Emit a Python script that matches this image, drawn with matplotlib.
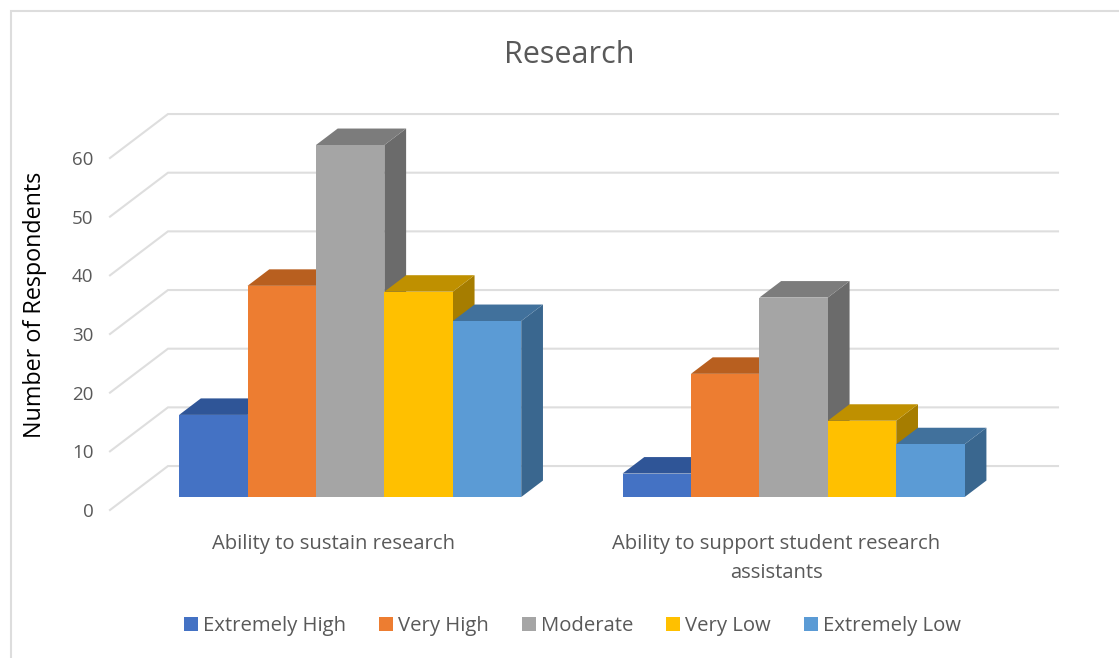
import matplotlib
matplotlib.use("Agg")
import matplotlib.pyplot as plt
from matplotlib.lines import Line2D
from matplotlib.patches import Patch, Polygon

categories = ["Ability to sustain research", "Ability to support student research\nassistants"]
series_names = ["Extremely High", "Very High", "Moderate", "Very Low", "Extremely Low"]
extremely_high = [14, 4]
very_high = [36, 21]
moderate = [60, 34]
very_low = [35, 13]
extremely_low = [30, 9]
y_ticks = [0, 10, 20, 30, 40, 50, 60]

front_colours = ["#4472C4", "#ED7D31", "#A5A5A5", "#FFC000", "#5B9BD5"]
top_colours = ["#2F5597", "#B85F1F", "#7C7C7C", "#BF9000", "#41719C"]
side_colours = ["#28497F", "#9A4F1A", "#6B6B6B", "#A67D00", "#3A678F"]

W, H = 1119, 658
plt.rcParams["font.family"] = ["Open Sans", "DejaVu Sans"]

fig = plt.figure(figsize=(W / 100, H / 100), dpi=100)
ax = fig.add_axes([110 / W, 1 - 510 / H, 890 / W, 352 / H])
ax.set_xlim(-0.503, 1.504)
ax.set_ylim(0, 60)
for spine in ax.spines.values():
    spine.set_visible(False)

# fake 3D: a point at depth d moves right and up by these amounts (data units)
wall_dx = 58 / 443.5
wall_dy = 44 / 5.87
bar_width = 0.1543
bar_d0 = 0.295
bar_d1 = 0.67


def project(x, v, d):
    return x + wall_dx * d, v + wall_dy * d


# side wall lines and back wall gridlines
x_left, x_right = ax.get_xlim()
for v in y_ticks:
    bx, by = project(x_left, v, 1)
    ex, _ = project(x_right, v, 1)
    ax.plot([x_left, bx, ex], [v, by, by], color="#DEDEDE", lw=1.5, clip_on=False,
            solid_joinstyle="miter", zorder=1)


def draw_bar(x, v, i, z):
    x2 = x + bar_width
    front = [project(x, 0, bar_d0), project(x2, 0, bar_d0),
             project(x2, v, bar_d0), project(x, v, bar_d0)]
    top = [project(x, v, bar_d0), project(x2, v, bar_d0),
           project(x2, v, bar_d1), project(x, v, bar_d1)]
    side = [project(x2, 0, bar_d0), project(x2, 0, bar_d1),
            project(x2, v, bar_d1), project(x2, v, bar_d0)]
    ax.add_patch(Polygon(side, facecolor=side_colours[i], edgecolor="none", clip_on=False, zorder=z))
    ax.add_patch(Polygon(top, facecolor=top_colours[i], edgecolor="none", clip_on=False, zorder=z))
    ax.add_patch(Polygon(front, facecolor=front_colours[i], edgecolor="none", clip_on=False, zorder=z))


all_series = [extremely_high, very_high, moderate, very_low, extremely_low]
z = 2
for c in range(len(categories)):
    for i, values in enumerate(all_series):
        draw_bar(c + (i - 2.5) * bar_width, values[c], i, z)
        z += 1

ax.set_yticks(y_ticks)
ax.set_yticklabels([str(v) for v in y_ticks], fontsize=13.5, color="#595959")
ax.set_xticks(range(len(categories)))
ax.set_xticklabels(categories, fontsize=14.6, color="#595959", linespacing=1.62)
ax.tick_params(axis="both", length=0)
ax.tick_params(axis="y", pad=12)
ax.tick_params(axis="x", pad=17)

fig.text(569 / W, 1 - 55 / H, "Research", fontsize=22, color="#595959", ha="center", va="center")
fig.text(35 / W, 1 - 305 / H, "Number of Respondents", fontsize=16.8, color="black",
         rotation=90, ha="center", va="center")

handles = [Patch(facecolor=c, edgecolor="none") for c in front_colours]
fig.legend(handles, series_names, ncol=5, loc="center", bbox_to_anchor=(572.5 / W, 1 - 626 / H),
           frameon=False, fontsize=14.6, labelcolor="#595959", handlelength=0.7, handleheight=0.7,
           handletextpad=0.25, columnspacing=1.62)

# chart area border, only the top and left edges are in frame
fig.add_artist(Line2D([10.5 / W, 10.5 / W, 1], [0, 1 - 11 / H, 1 - 11 / H], transform=fig.transFigure,
                      color="#DDDDDD", lw=1.5, solid_joinstyle="miter"))

fig.savefig("out.png", dpi=100)
